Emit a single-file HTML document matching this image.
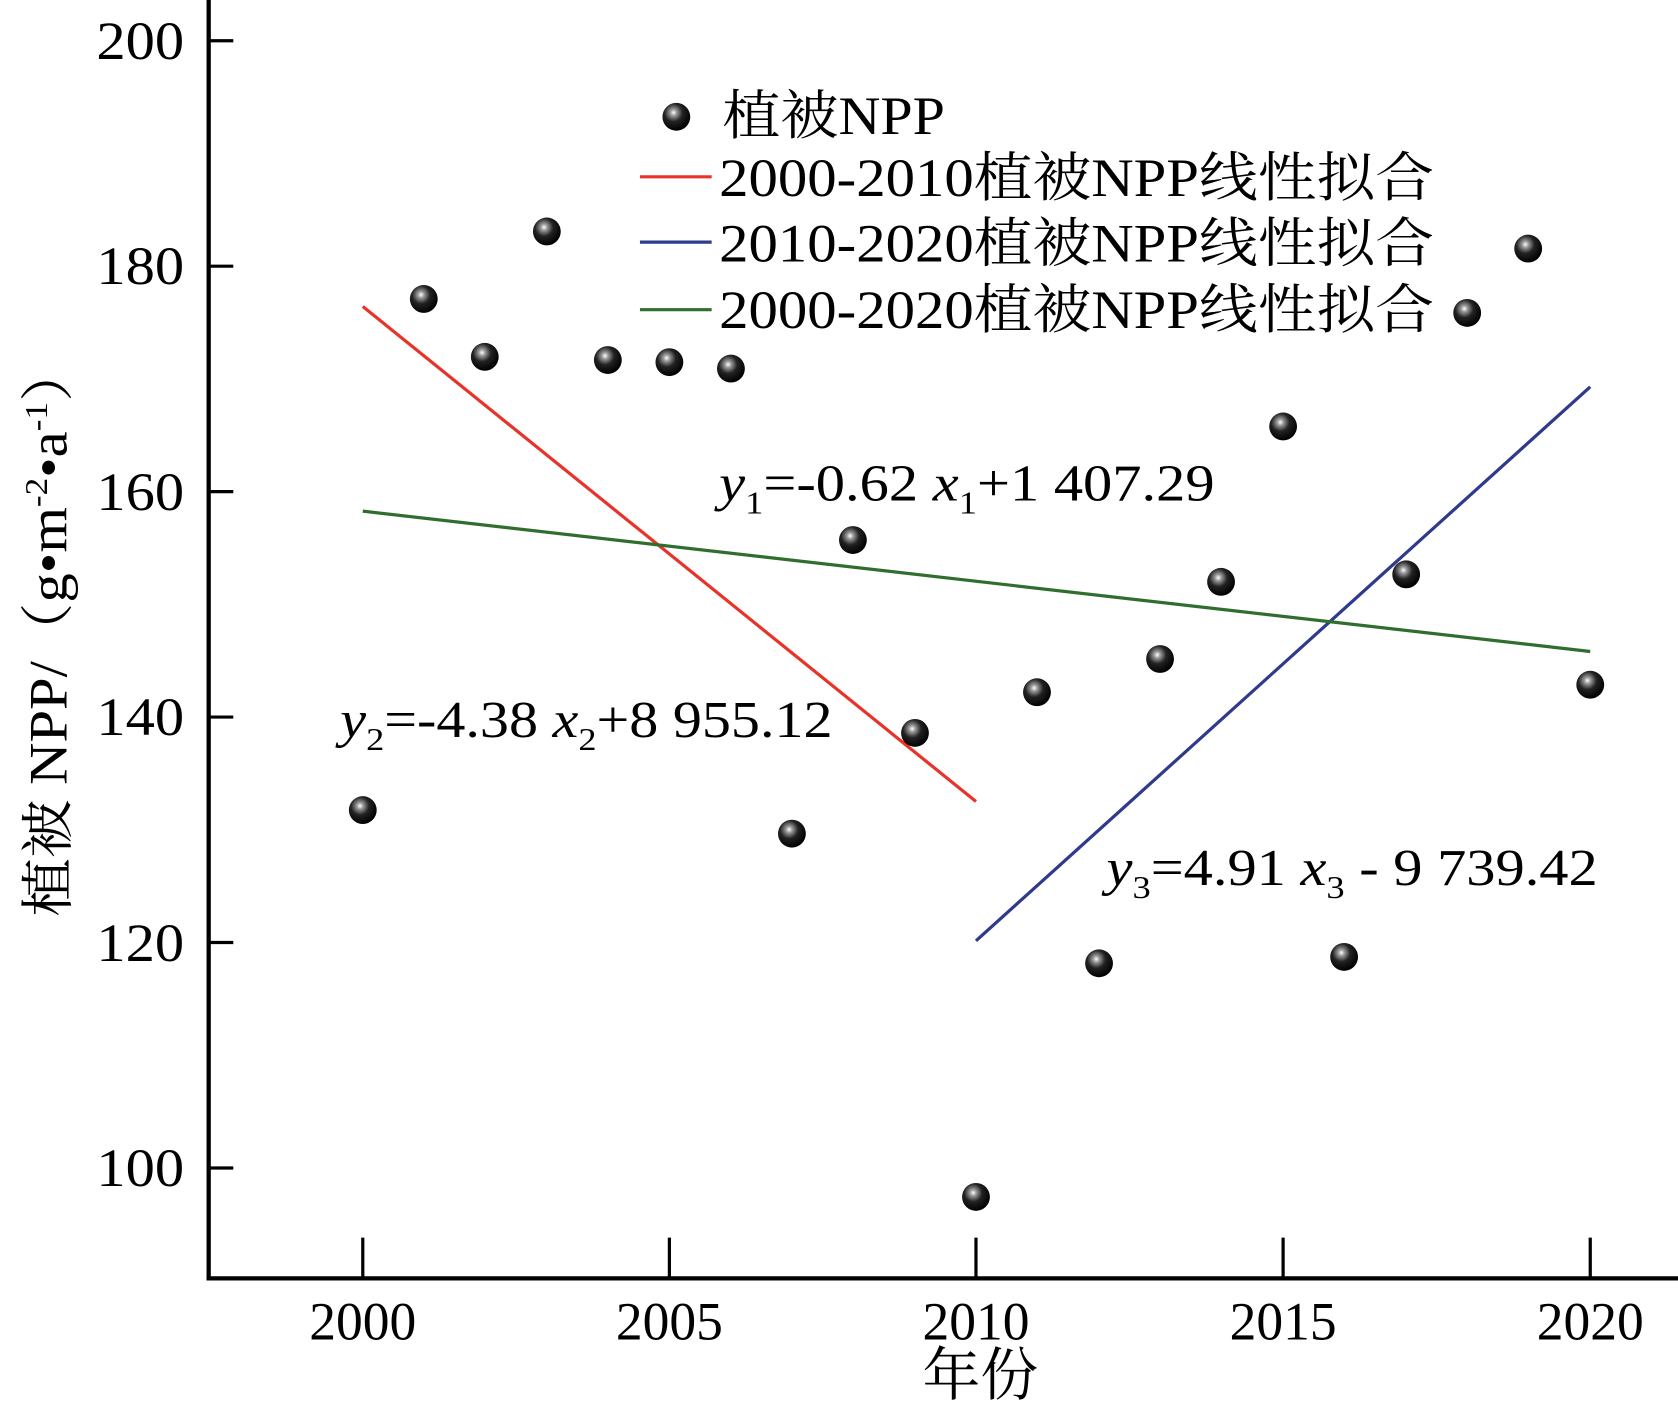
<!DOCTYPE html>
<html><head><meta charset="utf-8"><style>html,body{margin:0;padding:0;background:#fff}svg{display:block}</style></head>
<body>
<svg width="1678" height="1408" viewBox="0 0 1568 1314" preserveAspectRatio="none" xmlns="http://www.w3.org/2000/svg" font-family="'Liberation Serif','Noto Serif CJK SC',serif">
<defs>
<radialGradient id="b" cx="0.4" cy="0.35" r="0.65">
<stop offset="0" stop-color="#fff"/><stop offset="0.18" stop-color="#999"/><stop offset="0.5" stop-color="#222"/><stop offset="1" stop-color="#000"/>
</radialGradient>
</defs>
<g stroke="#000" stroke-width="4" fill="none">
<line x1="195" y1="0" x2="195" y2="1195"/>
<line x1="193" y1="1193" x2="1568" y2="1193"/>
</g>
<g stroke="#000" stroke-width="3">
<line x1="195" y1="38" x2="218" y2="38"/><line x1="195" y1="248.4" x2="218" y2="248.4"/><line x1="195" y1="458.8" x2="218" y2="458.8"/><line x1="195" y1="669.2" x2="218" y2="669.2"/><line x1="195" y1="879.6" x2="218" y2="879.6"/><line x1="195" y1="1090" x2="218" y2="1090"/>
<line x1="339" y1="1193" x2="339" y2="1155"/><line x1="625.5" y1="1193" x2="625.5" y2="1155"/><line x1="912" y1="1193" x2="912" y2="1155"/><line x1="1199" y1="1193" x2="1199" y2="1155"/><line x1="1486" y1="1193" x2="1486" y2="1155"/>
</g>
<g font-size="50" text-anchor="end" fill="#000">
<text x="172" y="55" textLength="82" lengthAdjust="spacingAndGlyphs">200</text>
<text x="172" y="265" textLength="82" lengthAdjust="spacingAndGlyphs">180</text>
<text x="172" y="476" textLength="82" lengthAdjust="spacingAndGlyphs">160</text>
<text x="172" y="686" textLength="82" lengthAdjust="spacingAndGlyphs">140</text>
<text x="172" y="897" textLength="82" lengthAdjust="spacingAndGlyphs">120</text>
<text x="172" y="1107" textLength="82" lengthAdjust="spacingAndGlyphs">100</text>
</g>
<g font-size="50" text-anchor="middle" fill="#000">
<text x="339" y="1250">2000</text><text x="625.5" y="1250">2005</text><text x="912" y="1250">2010</text><text x="1199" y="1250">2015</text><text x="1486" y="1250">2020</text>
<text x="916" y="1302" font-size="54">年份</text>
</g>
<text transform="translate(62,588) rotate(-90)" text-anchor="middle" font-size="50" fill="#000" textLength="535" lengthAdjust="spacingAndGlyphs">植被 NPP/（g•m<tspan font-size="30" dy="-18">-2</tspan><tspan dy="18">•a</tspan><tspan font-size="30" dy="-18">-1</tspan><tspan dy="18">）</tspan></text>
<g stroke-width="3" fill="none">
<line x1="339" y1="286" x2="912" y2="748" stroke="#e8332a"/>
<line x1="912" y1="878" x2="1486" y2="361" stroke="#2e3a8c"/>
<line x1="339" y1="477" x2="1486" y2="608" stroke="#2f6e2f"/>
<line x1="598" y1="165" x2="665" y2="165" stroke="#e8332a"/>
<line x1="598" y1="226" x2="665" y2="226" stroke="#2e3a8c"/>
<line x1="598" y1="289" x2="665" y2="289" stroke="#2f6e2f"/>
</g>
<g fill="url(#b)">
<circle cx="339" cy="756" r="13"/><circle cx="396" cy="279" r="13"/><circle cx="453" cy="333" r="13"/><circle cx="511" cy="216" r="13"/><circle cx="568" cy="336" r="13"/><circle cx="625.5" cy="338" r="13"/><circle cx="683" cy="344" r="13"/><circle cx="740" cy="778" r="13"/><circle cx="797" cy="504" r="13"/><circle cx="855" cy="684" r="13"/><circle cx="912" cy="1117" r="13"/><circle cx="969" cy="646" r="13"/><circle cx="1027" cy="899" r="13"/><circle cx="1084" cy="615" r="13"/><circle cx="1141" cy="543" r="13"/><circle cx="1199" cy="398" r="13"/><circle cx="1256" cy="893" r="13"/><circle cx="1314" cy="536" r="13"/><circle cx="1371" cy="292" r="13"/><circle cx="1428" cy="232" r="13"/><circle cx="1486" cy="639" r="13"/>
<circle cx="632" cy="109" r="13"/>
</g>
<g font-size="50" fill="#000">
<text x="675" y="125" textLength="208" lengthAdjust="spacingAndGlyphs">植被NPP</text>
<text x="672" y="183" textLength="668" lengthAdjust="spacingAndGlyphs">2000-2010植被NPP线性拟合</text>
<text x="672" y="244" textLength="668" lengthAdjust="spacingAndGlyphs">2010-2020植被NPP线性拟合</text>
<text x="672" y="306" textLength="668" lengthAdjust="spacingAndGlyphs">2000-2020植被NPP线性拟合</text>
</g>
<g font-size="48" fill="#000">
<text x="672" y="467" textLength="463" lengthAdjust="spacingAndGlyphs"><tspan font-style="italic">y</tspan><tspan font-size="30" dy="12">1</tspan><tspan dy="-12">=-0.62 </tspan><tspan font-style="italic">x</tspan><tspan font-size="30" dy="12">1</tspan><tspan dy="-12">+1 407.29</tspan></text>
<text x="318" y="688" textLength="460" lengthAdjust="spacingAndGlyphs"><tspan font-style="italic">y</tspan><tspan font-size="30" dy="12">2</tspan><tspan dy="-12">=-4.38 </tspan><tspan font-style="italic">x</tspan><tspan font-size="30" dy="12">2</tspan><tspan dy="-12">+8 955.12</tspan></text>
<text x="1034" y="826" textLength="459" lengthAdjust="spacingAndGlyphs"><tspan font-style="italic">y</tspan><tspan font-size="30" dy="12">3</tspan><tspan dy="-12">=4.91 </tspan><tspan font-style="italic">x</tspan><tspan font-size="30" dy="12">3</tspan><tspan dy="-12"> - 9 739.42</tspan></text>
</g>
</svg>
</body></html>
